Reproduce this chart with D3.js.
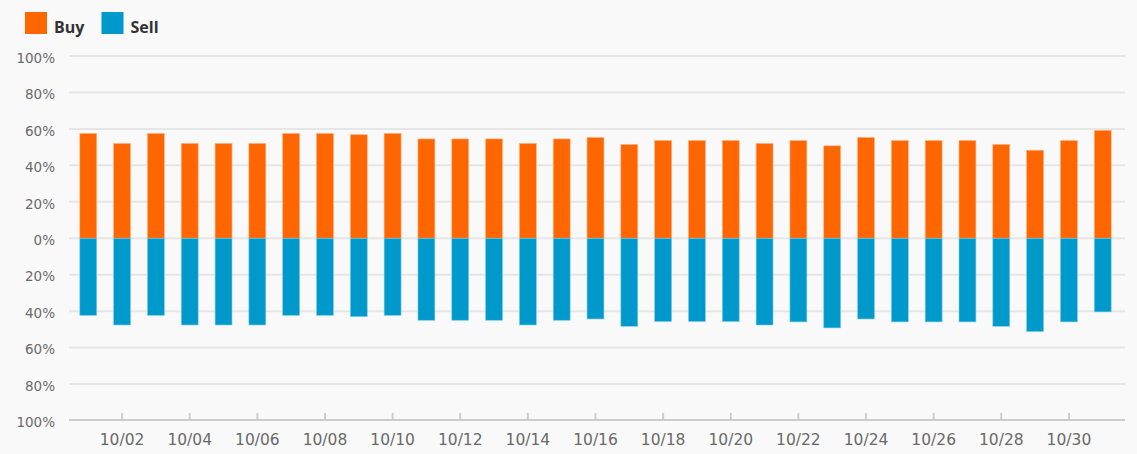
<!DOCTYPE html>
<html><head><meta charset="utf-8">
<script src="https://cdn.jsdelivr.net/npm/d3@7"></script>
<style>
html,body{margin:0;padding:0;background:#f9f9f9;}
svg{display:block;}
</style></head>
<body>
<svg id="chart" width="1137" height="454"></svg>
<script>
const days = ["10/01","10/02","10/03","10/04","10/05","10/06","10/07","10/08","10/09","10/10",
  "10/11","10/12","10/13","10/14","10/15","10/16","10/17","10/18","10/19","10/20",
  "10/21","10/22","10/23","10/24","10/25","10/26","10/27","10/28","10/29","10/30","10/31"];
const buy  = [57.5,52,57.5,52,52,52,57.5,57.5,56.8,57.5,54.5,54.5,54.5,52,54.5,55.3,51.4,53.6,53.6,53.6,52,53.6,50.7,55.3,53.6,53.6,53.6,51.4,48.3,53.6,59.2];
const sell = [42.3,47.6,42.3,47.6,47.6,47.6,42.3,42.3,43,42.3,45,45,45,47.6,45,44.3,48.3,45.7,45.7,45.7,47.6,45.9,49.2,44.3,45.9,45.9,45.9,48.3,51.2,45.9,40.4];
const yTicks = [100,80,60,40,20,0,-20,-40,-60,-80,-100];
const xTickLabels = ["10/02","10/04","10/06","10/08","10/10","10/12","10/14","10/16","10/18","10/20","10/22","10/24","10/26","10/28","10/30"];
const seriesNames = ["Buy","Sell"];
const colors = ["#ff6600","#0099cc"];

const svg = d3.select("#chart");
const plotLeft = 69, plotRight = 1125;
const x = d3.scaleBand().domain(days).range([plotLeft,1122]).paddingInner(0.5).paddingOuter(0.32);
const y = d3.scaleLinear().domain([-100,100]).range([420.5,56]);

// gridlines
svg.append("g").selectAll("line").data(yTicks.filter(d=>d!==-100)).join("line")
  .attr("x1",plotLeft).attr("x2",plotRight)
  .attr("y1",d=>y(d)).attr("y2",d=>y(d))
  .attr("stroke","#e6e6e6").attr("stroke-width",2);

// y labels
svg.append("g").selectAll("text").data(yTicks).join("text")
  .attr("x",55).attr("y",d=>y(d)).attr("dy","0.5em")
  .attr("text-anchor","end")
  .attr("font-family","DejaVu Sans, sans-serif").attr("font-size",13.5)
  .attr("fill","#6a6a6a")
  .text(d=>Math.abs(d)+"%");

// bars
const data = days.map((d,i)=>({day:d,buy:buy[i],sell:sell[i]}));
svg.append("g").selectAll("rect").data(data).join("rect")
  .attr("x",d=>x(d.day)).attr("width",x.bandwidth())
  .attr("y",d=>y(d.buy)).attr("height",d=>y(0)-y(d.buy))
  .attr("fill",colors[0]).attr("stroke","#ffb080").attr("stroke-width",0.6);
svg.append("g").selectAll("rect").data(data).join("rect")
  .attr("x",d=>x(d.day)).attr("width",x.bandwidth())
  .attr("y",y(0)).attr("height",d=>y(-d.sell)-y(0))
  .attr("fill",colors[1]).attr("stroke","#80cce6").attr("stroke-width",0.6);

// x axis
const xAxis = d3.axisBottom(x).tickValues(xTickLabels).tickSizeInner(-7).tickSizeOuter(0).tickPadding(14);
const gx = svg.append("g").attr("transform","translate(0,420)").call(xAxis);
gx.select(".domain").remove();
gx.append("line").attr("x1",plotLeft).attr("x2",plotRight).attr("y1",0).attr("y2",0)
  .attr("stroke","#cccccc").attr("stroke-width",2);
gx.selectAll(".tick line").attr("stroke","#cccccc").attr("stroke-width",2);
gx.selectAll(".tick text").attr("font-family","DejaVu Sans, sans-serif").attr("font-size",15.5).attr("fill","#6a6a6a");

// legend
const leg = svg.append("g");
const legX = [25,101.5];
seriesNames.forEach((n,i)=>{
  leg.append("rect").attr("x",legX[i]).attr("y",12).attr("width",22).attr("height",22).attr("fill",colors[i]);
  leg.append("text").attr("x",legX[i]+29).attr("y",32.7)
    .attr("font-family","Open Sans, sans-serif").attr("font-weight","bold").attr("font-size",16)
    .attr("fill","#333").text(n);
});
</script>
</body></html>
